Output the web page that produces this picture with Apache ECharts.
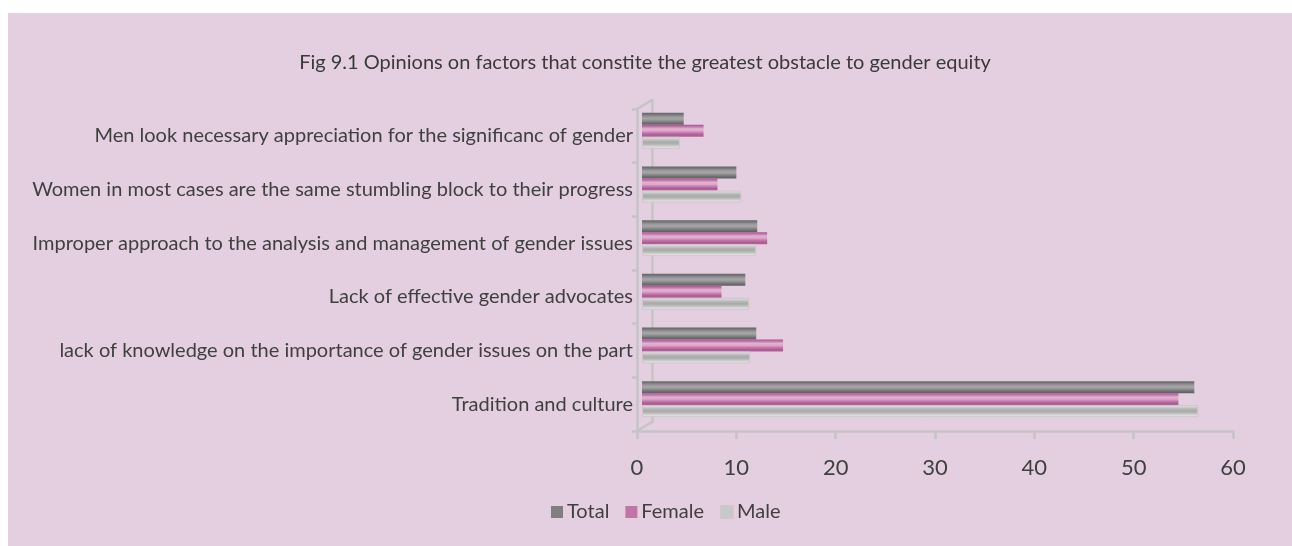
<!DOCTYPE html>
<html>
<head>
<meta charset="utf-8">
<script src="https://cdn.jsdelivr.net/npm/echarts@6/dist/echarts.min.js"></script>
<style>
  html, body { margin: 0; padding: 0; background: #ffffff; }
  #chart { width: 1292px; height: 546px; }
</style>
</head>
<body>
<div id="chart"></div>
<script>
// Categories, listed bottom to top
const categories = [
  'Tradition and culture',
  'lack of knowledge on the importance of gender issues on the part',
  'Lack of effective gender advocates',
  'Improper approach to the analysis and management of gender issues',
  'Women in most cases are the same stumbling block to their progress',
  'Men look necessary appreciation for the significanc of gender'
];
const totalValues  = [55.6, 11.5, 10.4, 11.6, 9.5, 4.2];
const femaleValues = [54.0, 14.2, 8.0, 12.6, 7.6, 6.2];
const maleValues   = [56.0, 10.9, 10.8, 11.5, 10.0, 3.8];
const xTicks = [0, 10, 20, 30, 40, 50, 60];

const FONT = 'Lato, "Open Sans", sans-serif';
const TEXT = '#404040';
const AXIS = '#c6c3c6';

function stripes(colors) {
  const stops = colors.map((c, i) => ({ offset: i / (colors.length - 1), color: c }));
  return new echarts.graphic.LinearGradient(0, 0, 0, 1, stops);
}

const totalFill = stripes(['#646466', '#7c7c7e', '#9a9a9c', '#a6a6a8', '#8e8e90', '#707072', '#5e5e60']);
const femaleFill = stripes(['#a9528f', '#c57cae', '#e2b2d2', '#dca6c9', '#c47aac', '#b05b95', '#b4609a']);
const maleFill = stripes(['#e6e6e6', '#cfcfcf', '#b4b4b4', '#a9a9a9', '#bcbcbc', '#d9d9d9', '#e8e8e8']);

const chart = echarts.init(document.getElementById('chart'));

// Front plane (axes), back wall, and the plane the bars sit in
const front = { left: 637, right: 59, top: 109, bottom: 115 };
const back  = { left: 652, right: 44, top: 100, bottom: 124 };
const bars  = { left: 642, right: 54, top: 104, bottom: 120 };

chart.setOption({
  backgroundColor: '#ffffff',
  animation: false,
  title: {
    text: 'Fig 9.1 Opinions on factors that constite the greatest obstacle to gender equity',
    left: 640,
    textAlign: 'center',
    top: 48,
    textStyle: { fontFamily: FONT, fontSize: 20, fontWeight: 'normal', color: '#3a3a3a' }
  },
  legend: {
    data: [
      { name: 'Total', itemStyle: { color: '#7f7f81' } },
      { name: 'Female', itemStyle: { color: '#c274a6' } },
      { name: 'Male', itemStyle: { color: '#c8c8c8' } }
    ],
    left: 551,
    top: 502,
    padding: 0,
    icon: 'rect',
    itemWidth: 12,
    itemHeight: 12,
    itemGap: 16,
    textStyle: { fontFamily: FONT, fontSize: 20, color: TEXT, padding: [0, 0, 0, -1] }
  },
  graphic: [
    { type: 'rect', z: -10, shape: { x: 8, y: 13, width: 1284, height: 533 }, style: { fill: '#e3cfe0' } },
    { type: 'line', z: 1, shape: { x1: front.left, y1: front.top, x2: back.left, y2: back.top }, style: { stroke: AXIS, lineWidth: 2.5 } },
    { type: 'line', z: 1, shape: { x1: front.left, y1: 546 - front.bottom, x2: back.left, y2: 546 - back.bottom }, style: { stroke: AXIS, lineWidth: 2.5 } }
  ],
  grid: [
    Object.assign({ containLabel: false }, front),
    Object.assign({ containLabel: false }, back),
    Object.assign({ containLabel: false }, bars)
  ],
  xAxis: [
    {
      gridIndex: 0, type: 'value', min: 0, max: 60, interval: 10,
      axisLine: { show: true, lineStyle: { color: AXIS, width: 2.5 } },
      axisTick: { show: true, length: 8, lineStyle: { color: AXIS, width: 2.5 } },
      splitLine: { show: false },
      axisLabel: {
        margin: 26, fontFamily: FONT, fontSize: 22, color: TEXT,
        formatter: v => (xTicks.includes(v) ? String(v) : '')
      }
    },
    { gridIndex: 1, type: 'value', min: 0, max: 60, show: false },
    { gridIndex: 2, type: 'value', min: 0, max: 60, show: false }
  ],
  yAxis: [
    {
      gridIndex: 0, type: 'category', data: categories,
      axisLine: { show: true, lineStyle: { color: AXIS, width: 2.5 } },
      axisTick: { show: true, length: 5, lineStyle: { color: AXIS, width: 2.5 } },
      axisLabel: { margin: 4, fontFamily: FONT, fontSize: 20, color: TEXT }
    },
    {
      gridIndex: 1, type: 'category', data: categories,
      axisLine: { show: true, lineStyle: { color: AXIS, width: 2.5 } },
      axisTick: { show: false }, axisLabel: { show: false }
    },
    { gridIndex: 2, type: 'category', data: categories, show: false }
  ],
  series: [
    {
      name: 'Total', type: 'bar', xAxisIndex: 2, yAxisIndex: 2, data: totalValues,
      barWidth: 12, barGap: '0%',
      itemStyle: { color: totalFill }
    },
    {
      name: 'Female', type: 'bar', xAxisIndex: 2, yAxisIndex: 2, data: femaleValues,
      barWidth: 12, barGap: '0%',
      itemStyle: { color: femaleFill }
    },
    {
      name: 'Male', type: 'bar', xAxisIndex: 2, yAxisIndex: 2, data: maleValues,
      barWidth: 12, barGap: '0%',
      itemStyle: { color: maleFill, borderColor: '#cbc8cb', borderWidth: 1 }
    }
  ]
});
</script>
</body>
</html>
